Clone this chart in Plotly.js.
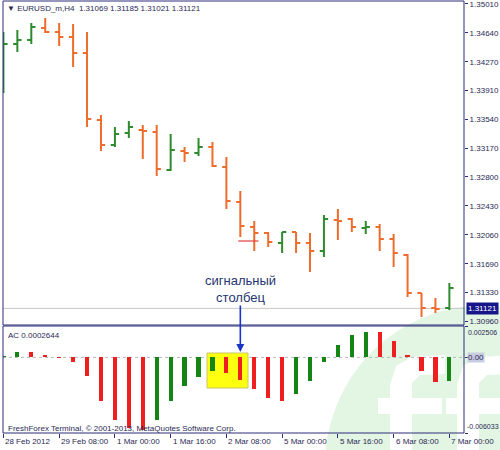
<!DOCTYPE html>
<html><head><meta charset="utf-8">
<script src="https://cdn.plot.ly/plotly-3.0.1.min.js"></script>
<style>html,body{margin:0;padding:0;background:#fff}#chart{width:500px;height:450px}</style>
</head><body><div id="chart"></div>
<script>
// ---- data ----
const barIdx = [0,1,2,3,4,5,6,7,8,9,10,11,12,13,14,15,16,17,18,19,20,21,22,23,24,25,26,27,28,29,30,31,32];
const openP  = [1.34422,1.34499,1.34550,1.34703,1.34652,1.34588,1.34384,1.33528,1.33209,1.33362,1.33400,1.33375,1.32889,1.33132,1.33106,1.33183,1.32927,1.32480,1.32161,1.32084,1.31956,1.32097,1.31956,1.31854,1.32250,1.32263,1.32148,1.32161,1.32007,1.31803,1.31318,1.31126,1.31126];
const highP  = [1.34652,1.34678,1.34767,1.34831,1.34767,1.34754,1.34652,1.33592,1.33438,1.33515,1.33464,1.33464,1.33349,1.33183,1.33298,1.33247,1.33055,1.32621,1.32237,1.32097,1.32097,1.32097,1.32084,1.32314,1.32391,1.32276,1.32237,1.32199,1.32071,1.31816,1.31318,1.31254,1.31445];
const lowP   = [1.33873,1.34397,1.34499,1.34639,1.34473,1.34205,1.33438,1.33132,1.33183,1.33298,1.33030,1.32812,1.32876,1.32991,1.33068,1.32927,1.32391,1.32033,1.31854,1.31905,1.31829,1.31829,1.31586,1.31778,1.31995,1.32097,1.32071,1.31854,1.31650,1.31266,1.31011,1.31062,1.31100];
const closeP = [1.34499,1.34550,1.34716,1.34652,1.34588,1.34384,1.33541,1.33209,1.33349,1.33438,1.33387,1.32902,1.33145,1.33106,1.33183,1.32940,1.32493,1.32174,1.32084,1.31969,1.32097,1.31956,1.31854,1.32263,1.32237,1.32161,1.32161,1.32007,1.31829,1.31318,1.31126,1.31113,1.31382];
const acValues = [0.00010,0.00043,0.00040,0.00016,-0.00003,-0.00040,-0.00152,-0.00346,-0.00497,-0.00564,-0.00577,-0.00503,-0.00351,-0.00231,-0.00157,-0.00106,-0.00125,-0.00184,-0.00253,-0.00325,-0.00351,-0.00293,-0.00192,-0.00037,0.00101,0.00176,0.00202,0.00200,0.00133,0.00019,-0.00112,-0.00200,-0.00192];
const xTickIdx = [0,4,8,12,16,20,24,28,32];
const xTickText = ['28 Feb 2012','29 Feb 08:00','1 Mar 00:00','1 Mar 16:00','2 Mar 08:00','5 Mar 00:00','5 Mar 16:00','6 Mar 08:00','7 Mar 00:00'];
const priceTicks = [1.35010,1.34640,1.34270,1.33910,1.33540,1.33170,1.32800,1.32430,1.32060,1.31690,1.31330,1.30960];
const priceTickText = ['1.35010','1.34640','1.34270','1.33910','1.33540','1.33170','1.32800','1.32430','1.32060','1.31690','1.31330','1.30960'];
const acTicks = [0.002506, 0, -0.006033];
const acTickText = ['0.002506','0.00','-0.006033'];
const bidPrice = 1.31121;
const levelX = [16.85, 18.3];
const levelY = [1.31982, 1.31982];
const signalBar = 17;
const headerText = '▼ EURUSD_m,H4  1.31069 1.31185 1.31021 1.31121';
const acLabel = 'AC 0.0002644';
const copyright = 'FreshForex Terminal, © 2001-2013, MetaQuotes Software Corp.';
const signalText = 'сигнальный<br>столбец';

// ---- styling ----
const FONT = 'Liberation Sans, Arial, sans-serif';
const NAVY = '#2c2c78';
const TXT = '#2a2a55';
const UP = '#2e8b2e', DOWN = '#ee6c2c';
const AC_UP = '#158515', AC_DN = '#ee1f1f';
const W = 500, H = 450, ML = 3, MR = 36, MT = 1, MB = 17;
const PW = W - ML - MR, PH = H - MT - MB;
const px = x => (x - ML) / PW;
const py = y => (H - MB - y) / PH;

const acColors = acValues.map((v, i) => (i === 0 || v >= acValues[i - 1]) ? AC_UP : AC_DN);

const traces = [
  {type:'ohlc', x:barIdx, open:openP, high:highP, low:lowP, close:closeP, xaxis:'x', yaxis:'y',
   increasing:{line:{color:UP, width:2}}, decreasing:{line:{color:DOWN, width:2}}, tickwidth:0.3,
   hoverinfo:'skip', showlegend:false},
  {type:'scatter', mode:'lines', x:levelX, y:levelY, xaxis:'x', yaxis:'y',
   line:{color:'#e04040', width:1.2}, hoverinfo:'skip', showlegend:false},
  {type:'bar', x:barIdx, y:acValues, xaxis:'x', yaxis:'y2', width:0.3,
   marker:{color:acColors, line:{width:0}}, hoverinfo:'skip', showlegend:false}
];

function pathFromPx(pts){
  return 'M' + pts.map(p => px(p[0]).toFixed(5) + ',' + py(p[1]).toFixed(5)).join(' L') + ' Z';
}

const shapes = [
  {type:'circle', xref:'paper', yref:'paper', x0:px(325), x1:px(645), y0:py(625), y1:py(305),
   fillcolor:'#e3f5e3', line:{width:0}, layer:'below'},
  {type:'path', xref:'paper', yref:'paper', layer:'below', fillcolor:'#ffffff', line:{width:0},
   path: pathFromPx([[390,455],[390,385],[396,366],[412,357],[445,355],[445,374],[420,375],[412,383],[412,455]])},
  {type:'path', xref:'paper', yref:'paper', layer:'below', fillcolor:'#ffffff', line:{width:0},
   path: pathFromPx([[378,398],[442,398],[442,414],[378,414]])},
  {type:'path', xref:'paper', yref:'paper', layer:'below', fillcolor:'#ffffff', line:{width:0},
   path: pathFromPx([[457,455],[457,385],[463,366],[479,357],[512,355],[512,374],[487,375],[479,383],[479,455]])},
  {type:'path', xref:'paper', yref:'paper', layer:'below', fillcolor:'#ffffff', line:{width:0},
   path: pathFromPx([[446,398],[510,398],[510,414],[446,414]])},
  {type:'line', xref:'paper', yref:'y', x0:0, x1:1, y0:bidPrice, y1:bidPrice, line:{color:'#c9c9c9', width:1}, layer:'below'},
  {type:'line', xref:'paper', yref:'y2', x0:0, x1:1, y0:0, y1:0, line:{color:'#b8b8b8', width:1, dash:'dot'}, layer:'below'},
  {type:'rect', xref:'paper', yref:'paper', x0:px(207), x1:px(248), y0:py(388), y1:py(353),
   fillcolor:'#ffff10', line:{color:'#c9c46a', width:1}, layer:'below'},
  {type:'rect', xref:'paper', yref:'y domain', x0:0, x1:1, y0:0, y1:1, line:{color:NAVY, width:1}},
  {type:'rect', xref:'paper', yref:'y2 domain', x0:0, x1:1, y0:0, y1:1, line:{color:NAVY, width:1}}
];

const annotations = [];
xTickIdx.forEach((v, i) => annotations.push({
  x:v, xref:'x', y:0, yref:'paper', yanchor:'top', xanchor:'left', xshift:0, yshift:-2,
  text:xTickText[i], showarrow:false, font:{family:FONT, size:8, color:TXT}
}));
annotations.push({x:1, xref:'paper', xanchor:'left', xshift:2, y:acTicks[0], yref:'y2', yanchor:'top', yshift:-1,
  text:acTickText[0], showarrow:false, font:{family:FONT, size:7, color:TXT}});
annotations.push({x:1, xref:'paper', xanchor:'left', xshift:3, y:acTicks[1], yref:'y2', yanchor:'middle',
  text:acTickText[1], showarrow:false, bgcolor:'#c9cde2', borderpad:0, font:{family:FONT, size:8, color:TXT}});
annotations.push({x:1, xref:'paper', xanchor:'left', xshift:1, y:acTicks[2], yref:'y2', yanchor:'bottom', yshift:1,
  text:acTickText[2], showarrow:false, font:{family:FONT, size:7, color:TXT}});
annotations.push({x:1, xref:'paper', xanchor:'left', xshift:2, y:bidPrice, yref:'y', yanchor:'middle',
  text:bidPrice.toFixed(5), showarrow:false, bgcolor:'#16168a', borderpad:1, font:{family:FONT, size:8, color:'#ffffff'}});
annotations.push({x:px(5), xref:'paper', xanchor:'left', y:py(9), yref:'paper', yanchor:'middle',
  text:headerText, showarrow:false, font:{family:FONT, size:8, color:TXT}});
annotations.push({x:px(6), xref:'paper', xanchor:'left', y:py(335), yref:'paper', yanchor:'middle',
  text:acLabel, showarrow:false, font:{family:FONT, size:8, color:TXT}});
annotations.push({x:px(6), xref:'paper', xanchor:'left', y:py(428), yref:'paper', yanchor:'middle',
  text:copyright, showarrow:false, font:{family:FONT, size:8, color:TXT}});
annotations.push({x:signalBar, xref:'x', y:py(289), yref:'paper', yanchor:'middle', xanchor:'center',
  text:signalText, showarrow:false, font:{family:FONT, size:13, color:'#1f3670'}});
annotations.push({x:signalBar, xref:'x', y:py(352), yref:'paper', text:'', showarrow:true,
  ax:0, ay:-48, arrowhead:2, arrowsize:1, arrowwidth:1.6, arrowcolor:'#1c33c8'});

const layout = {
  width:W, height:H, margin:{l:ML, r:MR, t:MT, b:MB, pad:0},
  paper_bgcolor:'#ffffff', plot_bgcolor:'rgba(0,0,0,0)', showlegend:false,
  font:{family:FONT, size:8, color:TXT},
  xaxis:{anchor:'y2', domain:[0,1], range:[-0.03, 33.05], rangeslider:{visible:false},
    tickmode:'array', tickvals:xTickIdx, ticktext:xTickText, showticklabels:false,
    ticks:'outside', ticklen:4, tickcolor:NAVY, showgrid:false, zeroline:false, showline:false, fixedrange:true},
  yaxis:{domain:[py(325), 1], range:[1.30909, 1.35048], side:'right', anchor:'x',
    tickmode:'array', tickvals:priceTicks, ticktext:priceTickText, ticklabeloverflow:'allow',
    ticks:'outside', ticklen:3, tickcolor:NAVY, tickfont:{family:FONT, size:8, color:TXT},
    showgrid:false, zeroline:false, showline:false},
  yaxis2:{domain:[0, py(326)], range:[-0.006033, 0.002506], side:'right', anchor:'x',
    tickmode:'array', tickvals:acTicks, ticktext:acTickText, showticklabels:false,
    ticks:'outside', ticklen:3, tickcolor:NAVY, showgrid:false, zeroline:false, showline:false},
  shapes:shapes, annotations:annotations, bargap:0
};

Plotly.newPlot('chart', traces, layout, {displayModeBar:false, staticPlot:true});
</script></body></html>
